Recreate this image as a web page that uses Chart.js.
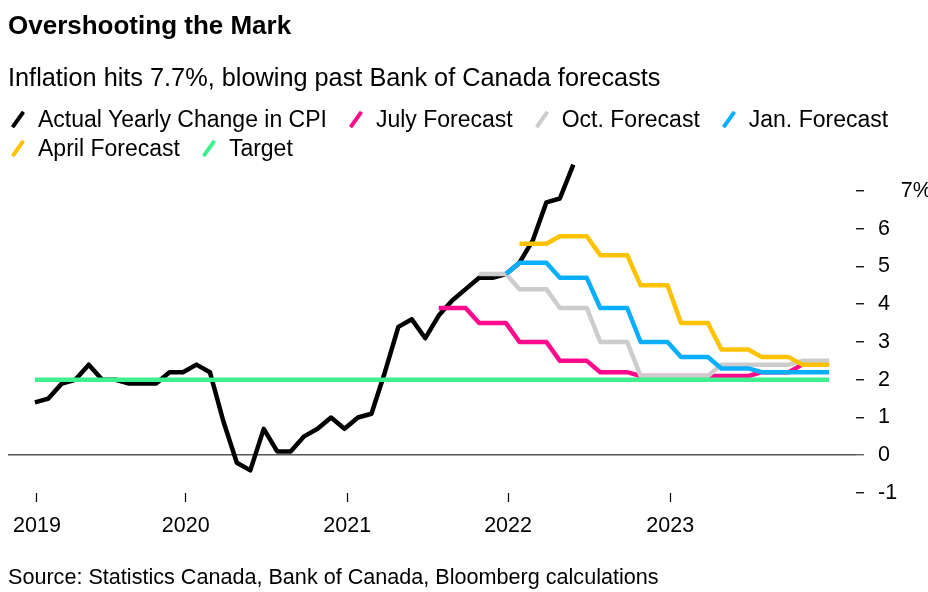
<!DOCTYPE html>
<html>
<head>
<meta charset="utf-8">
<title>Overshooting the Mark</title>
<script src="https://cdn.jsdelivr.net/npm/chart.js@4.4.0/dist/chart.umd.min.js"></script>
<style>
  html, body { margin: 0; padding: 0; background: #fff; }
  body {
    width: 928px; height: 592px; position: relative; overflow: hidden;
    font-family: "Liberation Sans", Arial, sans-serif; color: #000;
  }
  #chartWrap { position: absolute; left: 0; top: 0; width: 928px; height: 592px; }
  .title { position: absolute; left: 8px; top: 12px; font-size: 26px; font-weight: bold; line-height: 1; white-space: nowrap; }
  .subtitle { position: absolute; left: 8px; top: 65px; font-size: 25.3px; line-height: 1; white-space: nowrap; }
  #legend {
    position: absolute; left: 8px; top: 105px; width: 915px;
    display: flex; flex-wrap: wrap; column-gap: 19px;
    font-size: 23px; line-height: 29px;
  }
  .item { display: inline-flex; align-items: center; white-space: nowrap; }
  .swatch { position: relative; width: 30px; height: 29px; }
  .swatch i {
    position: absolute; left: 8px; top: 5px; width: 4px; height: 19px;
    transform: rotate(35deg); border-radius: 1px;
  }
  .source { position: absolute; left: 8px; top: 566px; font-size: 21.6px; line-height: 1; white-space: nowrap; }
</style>
</head>
<body>
<div id="chartWrap"><canvas id="cpiChart"></canvas></div>
<div class="title">Overshooting the Mark</div>
<div class="subtitle">Inflation hits 7.7%, blowing past Bank of Canada forecasts</div>
<div id="legend"></div>
<div class="source">Source: Statistics Canada, Bank of Canada, Bloomberg calculations</div>

<script>
// monthly, Jan 2019 .. Dec 2023 (60 months), one row per year
const actualCPI = [
    1.4, 1.5, 1.9, 2.0, 2.4, 2.0, 2.0, 1.9, 1.9, 1.9, 2.2, 2.2,
    2.4, 2.2, 0.9, -0.2, -0.4, 0.7, 0.1, 0.1, 0.5, 0.7, 1.0, 0.7,
    1.0, 1.1, 2.2, 3.4, 3.6, 3.1, 3.7, 4.1, 4.4, 4.7, 4.7, 4.8,
    5.1, 5.7, 6.7, 6.8, 7.7, null, null, null, null, null, null, null,
    null, null, null, null, null, null, null, null, null, null, null, null
];
const julyForecast = [
    null, null, null, null, null, null, null, null, null, null, null, null,
    null, null, null, null, null, null, null, null, null, null, null, null,
    null, null, null, null, null, null, 3.9, 3.9, 3.9, 3.5, 3.5, 3.5,
    3.0, 3.0, 3.0, 2.5, 2.5, 2.5, 2.2, 2.2, 2.2, 2.1, 2.1, 2.1,
    2.1, 2.1, 2.1, 2.1, 2.1, 2.1, 2.2, 2.2, 2.2, 2.4, 2.4, 2.4
];
const octForecast = [
    null, null, null, null, null, null, null, null, null, null, null, null,
    null, null, null, null, null, null, null, null, null, null, null, null,
    null, null, null, null, null, null, null, null, null, 4.8, 4.8, 4.8,
    4.4, 4.4, 4.4, 3.9, 3.9, 3.9, 3.0, 3.0, 3.0, 2.1, 2.1, 2.1,
    2.1, 2.1, 2.1, 2.4, 2.4, 2.4, 2.4, 2.4, 2.4, 2.5, 2.5, 2.5
];
const janForecast = [
    null, null, null, null, null, null, null, null, null, null, null, null,
    null, null, null, null, null, null, null, null, null, null, null, null,
    null, null, null, null, null, null, null, null, null, null, null, 4.8,
    5.1, 5.1, 5.1, 4.7, 4.7, 4.7, 3.9, 3.9, 3.9, 3.0, 3.0, 3.0,
    2.6, 2.6, 2.6, 2.3, 2.3, 2.3, 2.2, 2.2, 2.2, 2.2, 2.2, 2.2
];
const aprilForecast = [
    null, null, null, null, null, null, null, null, null, null, null, null,
    null, null, null, null, null, null, null, null, null, null, null, null,
    null, null, null, null, null, null, null, null, null, null, null, null,
    5.6, 5.6, 5.6, 5.8, 5.8, 5.8, 5.3, 5.3, 5.3, 4.5, 4.5, 4.5,
    3.5, 3.5, 3.5, 2.8, 2.8, 2.8, 2.6, 2.6, 2.6, 2.4, 2.4, 2.4
];
const target = [
    2, 2, 2, 2, 2, 2, 2, 2, 2, 2, 2, 2,
    2, 2, 2, 2, 2, 2, 2, 2, 2, 2, 2, 2,
    2, 2, 2, 2, 2, 2, 2, 2, 2, 2, 2, 2,
    2, 2, 2, 2, 2, 2, 2, 2, 2, 2, 2, 2,
    2, 2, 2, 2, 2, 2, 2, 2, 2, 2, 2, 2
];

// x ticks (month index where each year label sits) and y ticks
const xTickPos = [0.15, 11.2, 23.2, 35.15, 47.2];
const xTickLabels = ['2019', '2020', '2021', '2022', '2023'];
const yTickValues = [-1, 0, 1, 2, 3, 4, 5, 6, 7];

// legend order; 'z' = drawing order (lower is on top)
const series = [
    { label: 'Actual Yearly Change in CPI', data: actualCPI, color: '#000000', z: 5 },
    { label: 'July Forecast', data: julyForecast, color: '#ff0a8c', z: 4 },
    { label: 'Oct. Forecast', data: octForecast, color: '#cccccc', z: 3 },
    { label: 'Jan. Forecast', data: janForecast, color: '#0aaeff', z: 2 },
    { label: 'April Forecast', data: aprilForecast, color: '#ffc200', z: 1 },
    { label: 'Target', data: target, color: '#40f090', z: 0 }
];

// html legend
const legendEl = document.getElementById('legend');
series.forEach(s => {
    const item = document.createElement('span');
    item.className = 'item';
    item.innerHTML = '<span class="swatch"><i style="background:' + s.color + '"></i></span>' + s.label;
    legendEl.appendChild(item);
});

const toPoints = arr => arr.map((v, i) => ({ x: i, y: v }));

const tickFont = { family: '"Liberation Sans", Arial, sans-serif', size: 21.5 };

new Chart(document.getElementById('cpiChart'), {
    type: 'line',
    data: {
        datasets: series.map(s => ({
            label: s.label,
            data: toPoints(s.data),
            borderColor: s.color,
            backgroundColor: s.color,
            borderWidth: 4.5,
            borderJoinStyle: 'round',
            pointRadius: 0,
            tension: 0,
            spanGaps: false,
            order: s.z
        }))
    },
    options: {
        responsive: true,
        maintainAspectRatio: false,
        animation: false,
        layout: { padding: { left: 8, top: 157, right: 0, bottom: 54 } },
        plugins: {
            legend: { display: false },
            tooltip: { enabled: false }
        },
        scales: {
            x: {
                type: 'linear',
                min: -2,
                max: 61,
                afterBuildTicks: scale => { scale.ticks = xTickPos.map(v => ({ value: v })); },
                afterFit: scale => { scale.height = 45; },
                ticks: {
                    autoSkip: false,
                    maxRotation: 0,
                    padding: 11,
                    color: '#000',
                    font: tickFont,
                    callback: (v, i) => xTickLabels[i]
                },
                grid: {
                    drawOnChartArea: false,
                    tickLength: 9,
                    tickColor: '#000',
                    tickWidth: 1.2
                },
                border: { display: false }
            },
            y: {
                type: 'linear',
                position: 'right',
                min: -1,
                max: 7.9,
                afterBuildTicks: scale => { scale.ticks = yTickValues.map(v => ({ value: v })); },
                afterFit: scale => { scale.width = 72; },
                ticks: {
                    padding: 14,
                    color: '#000',
                    font: tickFont,
                    callback: v => (v === 7 ? '\u2002  7%' : String(v))
                },
                grid: {
                    color: ctx => (ctx.tick && ctx.tick.value === 0 ? '#555' : 'rgba(0,0,0,0)'),
                    lineWidth: 1.5,
                    tickLength: 8,
                    tickColor: ctx => (ctx.tick && ctx.tick.value === 0 ? '#555' : '#000'),
                    tickWidth: 1.3
                },
                border: { display: false }
            }
        }
    }
});
</script>
</body>
</html>
